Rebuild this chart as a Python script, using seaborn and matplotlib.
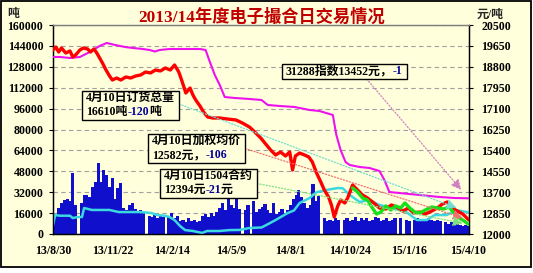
import matplotlib
matplotlib.use("Agg")
import matplotlib.pyplot as plt
import matplotlib.dates as mdates
from matplotlib.patches import Rectangle
from matplotlib.transforms import Bbox
import pandas as pd
import seaborn as sns

# ---------------- data ----------------
vol_start = "2013-08-30"
volume = [13000, 14000, 20000, 24000, 26000, 27000, 25000, 47000, 22000, 0,
          24000, 30000, 30000, 28000, 36000, 40000, 54000, 40000, 49000, 45000,
          36000, 43000, 27000, 35000, 39000, 20000, 18000, 22000, 24000, 19000,
          17000, 18000, 16000, 0, 14000, 13000, 15000, 12000, 14000, 13000,
          0, 14000, 16000, 12000, 14000, 10000, 11000, 9000, 12000, 10000,
          11000, 9000, 10000, 14000, 15000, 13000, 16000, 14000, 17000, 20000,
          24000, 18000, 27000, 22000, 20000, 27000, 19000, 0, 18000, 22000,
          0, 25000, 17000, 19000, 21000, 23000, 18000, 16000, 24000, 15000,
          17000, 19000, 16000, 18000, 22000, 27000, 30000, 34000, 28000, 24000,
          20000, 22000, 38000, 25000, 29000, 0, 12000, 10000, 11000, 10000,
          12000, 11000, 0, 11000, 12000, 10000, 11000, 13000, 10000, 12000,
          11000, 12000, 10000, 11000, 13000, 12000, 10000, 11000, 12000, 10000,
          11000, 12000, 0, 12000, 0, 11000, 10000, 0, 11000, 12000,
          10000, 11000, 10000, 12000, 11000, 10000, 11000, 10000, 0, 9000,
          8000, 9000, 7000, 8000, 7000, 6000, 7000, 6000]

order_dates = ["2013-08-30", "2013-09-02", "2013-09-09", "2013-09-23", "2013-09-27", "2013-10-04",
               "2013-10-10", "2013-10-13", "2013-10-24", "2013-11-04", "2013-11-18", "2013-12-01",
               "2013-12-17", "2013-12-30", "2014-01-08", "2014-01-17", "2014-01-24", "2014-02-04",
               "2014-02-11", "2014-02-18", "2014-02-26", "2014-03-05", "2014-03-16", "2014-03-29",
               "2014-04-05", "2014-04-22", "2014-05-07", "2014-05-21", "2014-06-04", "2014-06-21",
               "2014-06-28", "2014-07-11", "2014-07-28", "2014-08-06", "2014-08-14", "2014-08-28",
               "2014-09-07", "2014-09-21", "2014-10-07", "2014-10-14", "2014-10-24", "2014-11-07",
               "2014-11-21", "2014-12-05", "2014-12-24", "2015-01-12", "2015-01-27", "2015-02-10",
               "2015-02-21", "2015-03-10", "2015-03-24", "2015-04-10"]
order_total = [6500, 14500, 14000, 14000, 12200, 13000,
               13000, 19900, 18400, 18400, 18400, 16800,
               16800, 16800, 16500, 16000, 14500, 14000,
               13000, 10700, 6000, 3000, 2300, 800,
               2300, 2300, 3000, 3100, 4600, 5000,
               6900, 10700, 16000, 18000, 23700, 27500,
               32000, 33700, 35200, 35000, 29800, 24500,
               26000, 22200, 19900, 16800, 10700, 10700,
               14500, 14500, 18300, 16610]

price_dates = ["2013-08-30", "2013-09-03", "2013-09-07", "2013-09-11", "2013-09-17", "2013-09-23",
               "2013-09-27", "2013-10-01", "2013-10-07", "2013-10-12", "2013-10-18", "2013-10-22",
               "2013-10-27", "2013-10-31", "2013-11-04", "2013-11-08", "2013-11-13", "2013-11-18",
               "2013-11-22", "2013-11-28", "2013-12-04", "2013-12-11", "2013-12-18", "2013-12-25",
               "2014-01-01", "2014-01-08", "2014-01-15", "2014-01-22", "2014-01-29", "2014-02-05",
               "2014-02-12", "2014-02-18", "2014-02-24", "2014-02-28", "2014-03-06", "2014-03-12",
               "2014-03-16", "2014-03-20", "2014-03-26", "2014-03-31", "2014-04-06", "2014-04-13",
               "2014-04-23", "2014-05-04", "2014-05-16", "2014-05-25", "2014-06-04", "2014-06-13",
               "2014-06-20", "2014-06-27", "2014-07-04", "2014-07-11", "2014-07-18", "2014-07-25",
               "2014-07-31", "2014-08-04", "2014-08-08", "2014-08-14", "2014-08-21", "2014-08-27",
               "2014-09-01", "2014-09-07", "2014-09-13", "2014-09-18", "2014-09-24", "2014-09-28",
               "2014-10-02", "2014-10-07", "2014-10-11", "2014-10-17", "2014-10-21", "2014-10-28",
               "2014-11-04", "2014-11-11", "2014-11-18", "2014-11-27", "2014-12-05", "2014-12-14",
               "2014-12-22", "2014-12-29", "2015-01-07", "2015-01-15", "2015-01-22", "2015-01-31",
               "2015-02-08", "2015-02-17", "2015-02-25", "2015-03-04", "2015-03-11", "2015-03-18",
               "2015-03-25", "2015-04-02", "2015-04-10"]
price_avg = [19483, 19605, 19402, 19565, 19361, 19443,
             19199, 19280, 19483, 19565, 19524, 19402,
             19524, 19361, 19158, 18955, 18670, 18426,
             18263, 18344, 18263, 18385, 18344, 18426,
             18467, 18589, 18548, 18670, 18630, 18752,
             18670, 18873, 18589, 18263, 17734, 17937,
             17653, 17450, 17206, 16962, 16758, 16718,
             16718, 16677, 16636, 16514, 16351, 16108,
             15904, 15660, 15416, 15213, 15335, 15172,
             15335, 14603, 15172, 15294, 15213, 15132,
             14929, 14481, 14115, 13789, 13505, 13180,
             12691, 13139, 13383, 13261, 13464, 13993,
             13789, 13586, 13464, 13261, 13057, 13017,
             13180, 13098, 12935, 13057, 12854, 12895,
             12813, 12935, 13057, 13220, 13301, 13057,
             12935, 12813, 12582]

c1504_dates = ["2014-10-28", "2014-11-04", "2014-11-11", "2014-11-18", "2014-11-25", "2014-12-01",
               "2014-12-07", "2014-12-14", "2014-12-21", "2014-12-28", "2015-01-04", "2015-01-10",
               "2015-01-17", "2015-01-24", "2015-01-31", "2015-02-08", "2015-02-17", "2015-02-25",
               "2015-03-06", "2015-03-13", "2015-03-21", "2015-03-28", "2015-04-04", "2015-04-10"]
c1504 = [13871, 13708, 13464, 13383, 13057, 12813,
         12895, 13139, 12976, 13139, 13057, 13261,
         13057, 12895, 12854, 12976, 13098, 13057,
         13017, 13098, 12854, 12651, 12529, 12394]

index_dates = ["2013-08-30", "2013-09-09", "2013-09-23", "2013-10-07", "2013-10-21", "2013-11-04",
               "2013-11-14", "2013-11-26", "2013-12-10", "2013-12-21", "2014-01-04", "2014-01-14",
               "2014-01-21", "2014-01-28", "2014-02-11", "2014-03-05", "2014-03-26", "2014-04-03",
               "2014-04-09", "2014-04-16", "2014-04-23", "2014-04-30", "2014-05-14", "2014-06-04",
               "2014-06-21", "2014-06-30", "2014-07-17", "2014-08-07", "2014-08-28", "2014-09-11",
               "2014-09-30", "2014-10-05", "2014-10-11", "2014-10-18", "2014-10-24", "2014-11-07",
               "2014-11-21", "2014-12-05", "2014-12-12", "2014-12-19", "2015-01-02", "2015-01-31",
               "2015-02-28", "2015-03-21", "2015-04-10"]
index_vals = [19199, 19199, 19158, 19199, 19402, 19646,
              19768, 19687, 19605, 19565, 19524, 19483,
              19422, 19483, 19524, 19524, 19524, 19483,
              18995, 18467, 18060, 17572, 17532, 17491,
              17450, 17246, 17206, 17165, 17043, 17002,
              16840, 16026, 15416, 14928, 14806, 14725,
              14684, 14562, 14196, 13708, 13667, 13586,
              13505, 13464, 13452]

xtick_dates = ["2013-08-30", "2013-11-22", "2014-02-14", "2014-05-09",
               "2014-08-01", "2014-10-24", "2015-01-16", "2015-04-10"]
xtick_labels = ["13/8/30", "13/11/22", "14/2/14", "14/5/9",
                "14/8/1", "14/10/24", "15/1/16", "15/4/10"]
left_ticks = [0, 16000, 32000, 48000, 64000, 80000, 96000, 112000, 128000, 144000, 160000]
right_ticks = [12000, 12850, 13700, 14550, 15400, 16250, 17100, 17950, 18800, 19650, 20500]

title = "2013/14年度电子撮合日交易情况"
unit_left = "吨"
unit_right = "元/吨"
ann_order = ("4月10日订货总量", [("16610吨", "k"), ("-120", "chg"), ("吨", "k")])
ann_avg = ("4月10日加权均价", [("12582元，", "k"), ("-106", "chg")])
ann_1504 = ("4月10日1504合约", [("12394元", "k"), ("-21", "chg"), ("元", "k")])
ann_index = ("", [("31288指数13452元，", "k"), ("-1", "chg")])

# ---------------- style ----------------
BG = "#FFFFDC"
BLUE = "#1010CC"
CYAN = "#3CD8E0"
RED = "#FF0000"
GREEN = "#18E018"
MAGENTA = "#EE11EE"
NAVY = "#000099"
FONT = ["Liberation Serif", "Noto Sans CJK SC", "DejaVu Sans"]

sns.set_theme(style="white")
plt.rcParams["font.family"] = FONT
plt.rcParams["font.weight"] = "bold"
plt.rcParams["axes.unicode_minus"] = False

fig = plt.figure(figsize=(5.33, 2.73), dpi=100, facecolor="white")
fig.patches.append(Rectangle((1 / 533, 6 / 273), 530 / 533, 266 / 273, transform=fig.transFigure,
                             facecolor=BG, edgecolor="black", lw=1.3, zorder=-5))

ax = fig.add_axes([53 / 533, 39 / 273, 415.5 / 533, 209 / 273])
ax.set_facecolor(BG)
ax2 = ax.twinx()

vol_df = pd.DataFrame({"date": pd.date_range(vol_start, periods=len(volume), freq="4D"), "volume": volume})
order_df = pd.DataFrame({"date": pd.to_datetime(order_dates), "v": order_total})
price_df = pd.DataFrame({"date": pd.to_datetime(price_dates), "v": price_avg})
c_df = pd.DataFrame({"date": pd.to_datetime(c1504_dates), "v": c1504})
idx_df = pd.DataFrame({"date": pd.to_datetime(index_dates), "v": index_vals})

ax.bar(vol_df["date"], vol_df["volume"], width=4.4, color=BLUE, linewidth=0, antialiased=False, zorder=2)
sns.lineplot(data=order_df, x="date", y="v", ax=ax, color=CYAN, lw=1.8, zorder=3)
sns.lineplot(data=idx_df, x="date", y="v", ax=ax2, color=MAGENTA, lw=1.5, zorder=3)
sns.lineplot(data=price_df, x="date", y="v", ax=ax2, color=RED, lw=2.4, zorder=4)
sns.lineplot(data=c_df, x="date", y="v", ax=ax2, color=GREEN, lw=2.4, zorder=5)

ax.set_xlim(pd.Timestamp(xtick_dates[0]), pd.Timestamp(xtick_dates[-1]))
ax.set_ylim(left_ticks[0], left_ticks[-1])
ax2.set_ylim(right_ticks[0], right_ticks[-1])
ax.set_xticks(pd.to_datetime(xtick_dates))
ax.set_xticklabels(xtick_labels)
ax.set_yticks(left_ticks)
ax.set_yticklabels([str(v) for v in left_ticks])
ax2.set_yticks(right_ticks)
ax2.set_yticklabels([str(v) for v in right_ticks])
for a in (ax, ax2):
    a.set_xlabel("")
    a.set_ylabel("")
ax.yaxis.grid(True, linestyle=(0, (4, 3)), color="#A0A0A0", lw=0.8)
ax.xaxis.grid(False)
ax.set_axisbelow(True)

ax.tick_params(axis="y", left=True, direction="out", length=3, width=0.8, pad=4, labelsize=8.6, colors="black")
ax.tick_params(axis="x", bottom=False, length=0, pad=8, labelsize=8.6, colors="black")
ax2.tick_params(axis="y", right=True, direction="out", length=3, width=0.8, pad=6, labelsize=8.6, colors="black")
for a in (ax, ax2):
    for side in ("left", "right", "bottom"):
        a.spines[side].set_color("black")
        a.spines[side].set_linewidth(0.9)
    a.spines["top"].set_color("#808080")
    a.spines["top"].set_linewidth(0.9)

fig.text(262 / 533, 1 - 17.5 / 273, title, ha="center", va="center", fontsize=12.4, color="#C00000", fontweight="bold")
fig.text(7 / 533, 1 - 14 / 273, unit_left, ha="left", va="center", fontsize=8.6)
fig.text(477 / 533, 1 - 15 / 273, unit_right, ha="left", va="center", fontsize=8.6)


def label_box(x, y, spec, gap_px=14):
    line1, parts = spec
    kw = dict(fontsize=8.6, fontweight="bold", zorder=12)
    texts = []
    off = 0
    if line1:
        texts.append(ax2.text(x, y, line1, transform=ax2.transAxes, ha="left", va="top", color="black", **kw))
        off = -gap_px * 72 / 100
    col = lambda c: NAVY if c == "chg" else "black"
    prev = ax2.annotate(parts[0][0], xy=(x, y), xycoords="axes fraction", xytext=(0, off),
                        textcoords="offset points", ha="left", va="top", color=col(parts[0][1]), **kw)
    texts.append(prev)
    for s, c in parts[1:]:
        prev = ax2.annotate(s, xy=(1, 0), xycoords=prev, ha="left", va="bottom", color=col(c), **kw)
        texts.append(prev)
    return texts


boxes_spec = [
    (label_box((86 - 53) / 415.5, (234 - 92) / 209, ann_order), "order"),
    (label_box((152 - 53) / 415.5, (234 - 135) / 209, ann_avg), "avg"),
    (label_box((164 - 53) / 415.5, (234 - 170) / 209, ann_1504), "c1504"),
    (label_box((286 - 53) / 415.5, (234 - 65) / 209, ann_index), "index"),
]
fig.canvas.draw()
r = fig.canvas.get_renderer()
inv = ax2.transAxes.inverted()
rects = {}
for texts, key in boxes_spec:
    bb = Bbox.union([t.get_window_extent(r) for t in texts])
    x0, y0 = inv.transform((bb.x0 - 4, bb.y0 - 2))
    x1, y1 = inv.transform((bb.x1 + 4, bb.y1 + 1))
    ax2.add_patch(Rectangle((x0, y0), x1 - x0, y1 - y0, transform=ax2.transAxes, facecolor=BG,
                            edgecolor="black", lw=1.0, zorder=11, clip_on=False))
    rects[key] = (x0, y0, x1, y1)

ends = {
    "order": (ax.transData, order_df, "#70DDD0", (1.0, 0.55), 9),
    "avg": (ax2.transData, price_df, "#F07070", (1.0, 0.5), 4),
    "c1504": (ax2.transData, c_df, "#80E080", (1.0, 0.5), 4),
    "index": (ax2.transData, idx_df, "#D080C0", (0.68, 0.0), 8),
}
for key, (trans, df, c, frac, shrink) in ends.items():
    x0, y0, x1, y1 = rects[key]
    sx = x0 + (x1 - x0) * frac[0]
    sy = y0 + (y1 - y0) * frac[1]
    end = (mdates.date2num(df["date"].iloc[-1]), df["v"].iloc[-1])
    ax2.annotate("", xy=end, xycoords=trans, xytext=(sx, sy), textcoords=ax2.transAxes,
                 arrowprops=dict(arrowstyle="-|>,head_length=0.5,head_width=0.25", color=c, lw=0.9,
                                 ls=(0, (1, 1.5)), shrinkA=0, shrinkB=shrink), zorder=9)

fig.savefig("out.png", dpi=100, facecolor="white")
